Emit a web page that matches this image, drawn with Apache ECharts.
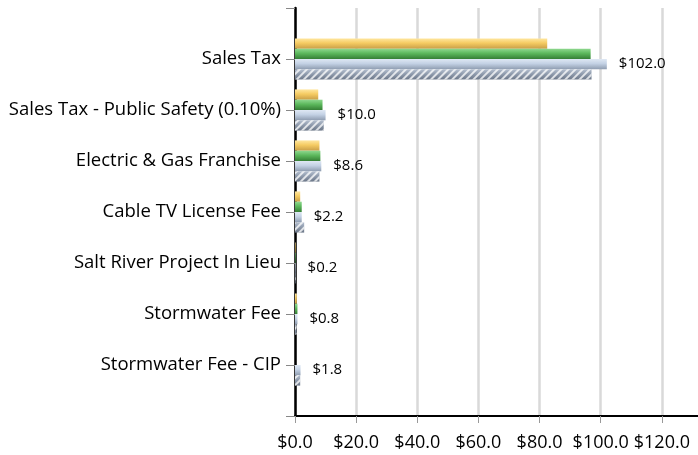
<!DOCTYPE html>
<html>
<head>
<meta charset="utf-8">
<script src="https://cdn.jsdelivr.net/npm/echarts@6/dist/echarts.min.js"></script>
<style>
  html, body { margin: 0; padding: 0; background: #fff; }
  #main { width: 698px; height: 455px; }
</style>
</head>
<body>
<div id="main"></div>
<script>
// categories (blank slots at both ends, ticks sit on the categories)
const categories = ['', 'Sales Tax', 'Sales Tax - Public Safety (0.10%)', 'Electric & Gas Franchise',
  'Cable TV License Fee', 'Salt River Project In Lieu', 'Stormwater Fee', 'Stormwater Fee - CIP', ''];

// four series (millions)
const yellowVals = [null, 82.5, 7.6, 8.0, 1.7, 0.2, 0.6, 0, null];
const greenVals = [null, 96.7, 9.0, 8.3, 2.2, 0.2, 0.8, 0, null];
const blueVals = [null, 102.0, 10.0, 8.6, 2.2, 0.2, 0.8, 1.8, null];
const hatchVals = [null, 97.0, 9.4, 8.0, 3.0, 0.2, 0.5, 1.7, null];

// axis runs on past the picture's right edge; last label is cut off there
const xTicks = [0, 20, 40, 60, 80, 100, 120, 140];
const lastShownTick = 120;

const myChart = echarts.init(document.getElementById('main'));

const grad = (a, b, c) => new echarts.graphic.LinearGradient(0, 0, 0, 1, [
  { offset: 0, color: a }, { offset: 0.45, color: b }, { offset: 1, color: c }
]);

const barBase = {
  type: 'bar',
  barWidth: 10.3,
  barGap: '0%',
};

const option = {
  animation: false,
  textStyle: { fontFamily: 'Open Sans' },
  grid: { left: 295, top: 8, width: 428, height: 408, outerBoundsMode: 'none' },
  xAxis: {
    type: 'value',
    min: xTicks[0],
    max: xTicks[xTicks.length - 1],
    interval: 20,
    axisLine: { show: true, lineStyle: { color: '#000', width: 2 } },
    axisTick: { show: true, length: 7, lineStyle: { color: '#999', width: 1 } },
    axisLabel: {
      color: '#000', fontSize: 18, margin: 18,
      formatter: v => (v > lastShownTick ? '' : '$' + v.toFixed(1))
    },
    splitLine: { show: true, lineStyle: { color: '#d9d9d9', width: 2.5 } }
  },
  yAxis: {
    type: 'category',
    data: categories,
    inverse: true,
    boundaryGap: false,
    axisLine: { show: true, lineStyle: { color: '#000', width: 2.5 } },
    axisTick: { show: true, length: 9, alignWithLabel: true, lineStyle: { color: '#888', width: 1 } },
    axisLabel: { color: '#000', fontSize: 18.5, margin: 14, interval: 0 },
    splitLine: { show: false }
  },
  series: [
    Object.assign({}, barBase, {
      name: 'yellow', data: yellowVals,
      itemStyle: { color: grad('#ffe7a0', '#f5cb62', '#c99f48') }
    }),
    Object.assign({}, barBase, {
      name: 'green', data: greenVals,
      itemStyle: { color: grad('#8fd88f', '#5cb85c', '#357f35') }
    }),
    Object.assign({}, barBase, {
      name: 'blue', data: blueVals,
      itemStyle: { color: grad('#dfe8f4', '#c3d1e4', '#8e9cb0') },
      label: {
        show: true, position: 'right', distance: 12,
        color: '#000', fontSize: 15,
        formatter: p => '$' + p.value.toFixed(1)
      }
    }),
    Object.assign({}, barBase, {
      name: 'hatch', data: hatchVals,
      itemStyle: {
        color: grad('#b4bfcf', '#8f9bad', '#6c7788'),
        decal: {
          symbol: 'rect',
          symbolSize: 1,
          color: 'rgba(255,255,255,0.75)',
          dashArrayX: [1, 0],
          dashArrayY: [2, 3],
          rotation: -Math.PI / 4
        }
      }
    })
  ]
};

myChart.setOption(option);
</script>
</body>
</html>
